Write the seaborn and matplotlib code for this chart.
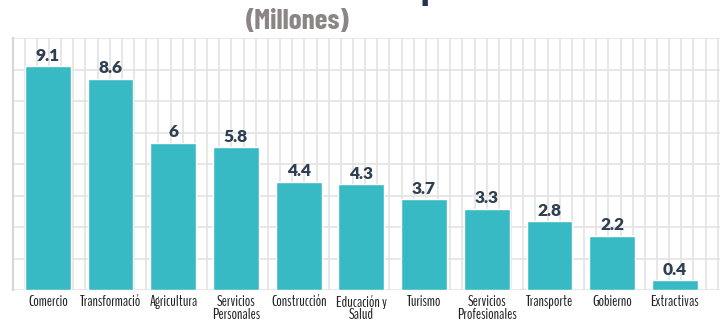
import numpy as np
import pandas as pd
import matplotlib.pyplot as plt
import seaborn as sns

# data (millions)
sectores = ['Comercio', 'Transformació', 'Agricultura', 'Servicios\nPersonales',
            'Construcción', 'Educación y\nSalud', 'Turismo', 'Servicios\nProfesionales',
            'Transporte', 'Gobierno', 'Extractivas']
valores = [9.1, 8.6, 6, 5.8, 4.4, 4.3, 3.7, 3.3, 2.8, 2.2, 0.4]
etiquetas = ['9.1', '8.6', '6', '5.8', '4.4', '4.3', '3.7', '3.3', '2.8', '2.2', '0.4']

sns.set_style("white")
plt.rcParams['font.family'] = ['DejaVu Sans']
condensada = ['BenchNine', 'DejaVu Sans']

df = pd.DataFrame({'sector': sectores, 'valor': valores})

fig = plt.figure(figsize=(7.27, 3.27), dpi=100)
ax = fig.add_axes([0.0172, 0.113, 0.973, 0.770])

sns.barplot(data=df, x='sector', y='valor', color='#37BAC4', saturation=1,
            width=0.73, ax=ax, zorder=3)

# limits and background grid
xmin, xmax = -0.565, 10.72
ymax = 10.24
ax.set_xlim(xmin, xmax)
ax.set_ylim(0, ymax)
ax.set_yticks(np.linspace(0, ymax, 9))
ax.set_yticklabels([])
ax.set_xticks(np.arange(xmin, xmax, 0.194), minor=True)
ax.grid(axis='y', which='major', color='#e3e3e3', linewidth=1.2, zorder=0)
ax.grid(axis='x', which='minor', color='#e3e3e3', linewidth=1.2, zorder=0)
ax.grid(axis='x', which='major', visible=False)
ax.tick_params(axis='both', which='both', length=0)
ax.tick_params(axis='x', pad=3.5)
for lbl in ax.get_xticklabels():
    lbl.set_family(condensada)
    lbl.set_fontsize(11)
    lbl.set_color('#222222')
    lbl.set_linespacing(0.95)

for side in ['top', 'right', 'bottom']:
    ax.spines[side].set_visible(False)
ax.spines['left'].set_color('#d6d6d6')
ax.spines['left'].set_linewidth(1.5)

ax.set_xlabel('')
ax.set_ylabel('')

# value labels
for i, (v, t) in enumerate(zip(valores, etiquetas)):
    ax.text(i, v + 0.1, t, ha='center', va='bottom', fontsize=12.5,
            fontweight='heavy', color='#2e3f52', family=['Lato', 'DejaVu Sans'])

# title (top line cut off in the reference) and subtitle
fig.text(0.592, 1.0, 'p', ha='center', va='baseline', fontsize=22,
         fontweight='bold', color='#1f3550')
fig.text(0.41, 0.935, '(Millones)', ha='center', va='center', fontsize=21,
         fontweight='bold', color='#8b8586', family=['Barlow Condensed', 'DejaVu Sans'])

plt.savefig('out.png', dpi=100)
